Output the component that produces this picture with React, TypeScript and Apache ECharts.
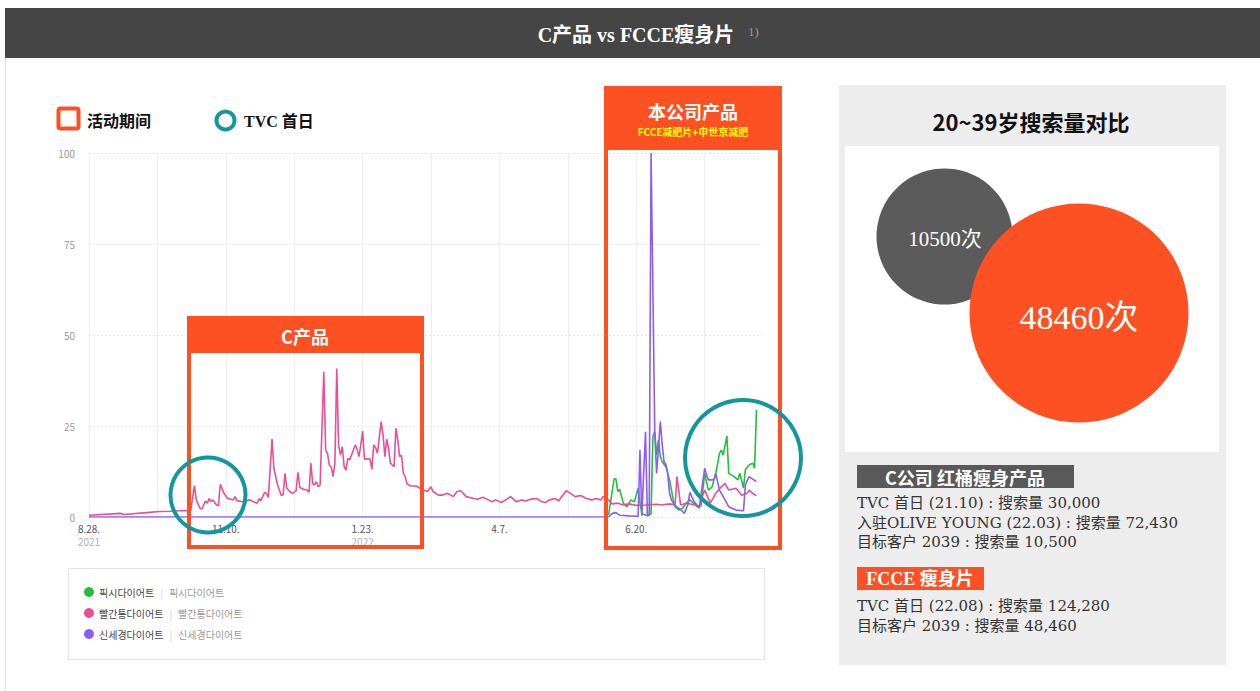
import React, { useEffect, useRef } from 'react';
import * as echarts from 'echarts';

// ---------- data ----------
const seriesNames = ['픽시다이어트', '빨간통다이어트', '신세경다이어트'];
const seriesColors = ['#22c03c', '#ea4f96', '#8c5cf5'];

// x = day index from 2021-08-28, y = relative search index
const pixieData: [number, number][] = [
  [281, 0.5], [284, 10.5], [285, 10.4], [286, 7.0], [287, 7.6], [289, 3.8], [291, 2.8], [293, 4.7],
  [295, 4.2], [297, 7.9], [298, 4.0], [299, 1.0], [301, 0.5], [303, 0.5], [304, 1.0], [305, 22.1],
  [306, 23.5], [307, 17], [308, 21.2], [309, 16.6], [310, 15.2], [312, 13.8], [314, 10.2], [316, 4.7],
  [317, 2.8], [319, 1.9], [321, 2.4], [323, 3.8], [325, 4.7], [327, 3.8], [329, 2.8], [331, 3.0],
  [333, 12.0], [335, 7.4], [337, 8.3], [339, 12.0], [341, 17.5], [342, 18.4], [343, 17], [345, 22.3],
  [346, 12.0], [349, 11.1], [351, 10.2], [352, 12.0], [354, 7.9], [355, 13], [357, 14.3], [359, 14.8],
  [360, 13.4], [361, 29.4],
];

const redBarrelData: [number, number][] = [
  [0, 0.5], [17, 1.0], [19, 0.7], [31, 1.2], [38, 1.5], [44, 1.6], [49, 1.7], [55, 1.7], [57, 8.6],
  [58, 4.7], [60, 2.4], [61, 2.2], [63, 4.4], [64, 3.8], [65, 5.1], [66, 4.2], [67, 4.7], [69, 3.3],
  [70, 3.1], [71, 9.0], [73, 6.5], [75, 5.1], [78, 4.7], [79, 5.6], [80, 4.5], [83, 4.2], [87, 4.7],
  [89, 4.2], [91, 3.8], [92, 5.1], [93, 4.5], [95, 6.8], [96, 6.5], [97, 5.4], [99, 21.4], [100, 13.4],
  [102, 8.8], [104, 5.9], [105, 6.1], [106, 12.0], [107, 7.9], [109, 6.8], [110, 6.5], [112, 7.2],
  [113, 12.3], [114, 8.1], [116, 7.6], [118, 7.4], [119, 6.8], [120, 14.8], [121, 9.1], [122, 8.8],
  [123, 9.7], [124, 8.3], [125, 8.8], [127, 39.9], [128, 18.4], [129, 17.5], [130, 14.3], [131, 13.8],
  [132, 11.1], [133, 14.8], [134, 40.8], [135, 19.8], [136, 17.0], [137, 19.3], [138, 13.8], [139, 12.9],
  [140, 16.1], [141, 15.7], [143, 18.4], [144, 19.8], [145, 18.6], [146, 16.6], [147, 19.8], [148, 23.6],
  [149, 15.9], [150, 16.0], [152, 15.9], [153, 13.1], [154, 19.8], [155, 19.1], [156, 17.5], [158, 26.2],
  [159, 22.8], [160, 16.6], [161, 21.4], [162, 18.9], [163, 14.8], [165, 13.8], [166, 24.4], [167, 21.2],
  [168, 16.6], [169, 17.0], [170, 12.0], [171, 11.1], [172, 9.1], [174, 8.5], [177, 8.5], [179, 7.9],
  [181, 7.4], [183, 7.0], [185, 8.3], [186, 7.0], [189, 6.0], [191, 6.0], [194, 6.5], [197, 5.6],
  [199, 7.0], [201, 7.2], [204, 5.6], [208, 5.1], [210, 4.9], [213, 5.4], [216, 4.7], [218, 4.2],
  [220, 4.7], [223, 4.0], [226, 4.9], [228, 5.6], [231, 4.2], [234, 4.7], [236, 4.4], [239, 4.9],
  [242, 5.1], [245, 4.2], [247, 4.0], [249, 4.7], [252, 5.1], [254, 4.4], [258, 7.2], [261, 6.3],
  [263, 5.6], [266, 5.9], [269, 5.1], [272, 4.7], [274, 5.1], [277, 4.7], [278, 5.6], [281, 4.7],
  [283, 3.6], [286, 3.8], [289, 3.3], [292, 3.6], [296, 3.2], [301, 3.3], [307, 3.5], [310, 3.3],
  [314, 3.6], [317, 3.3], [318, 11.1], [320, 3.3], [323, 3.8], [326, 3.5], [330, 3.0], [333, 7.4],
  [336, 3.8], [339, 6.5], [342, 8.3], [344, 9.2], [346, 7.4], [350, 7.9], [353, 6.0], [356, 6.5],
  [357, 7.4], [359, 6.5], [361, 5.8],
];

const shinData: [number, number][] = [
  [0, 0], [281, 0], [283, 1.0], [285, 1.2], [287, 0.5], [292, 0.3], [297, 0.2], [298, 18.4], [299, 0.3],
  [301, 23.4], [302, 0.3], [303, 0.5], [304, 100], [305, 62], [306, 23], [307, 12.0], [308, 19],
  [309, 26.2], [310, 20], [311, 15.2], [312, 14.5], [313, 12], [314, 6.5], [315, 4.7], [316, 3.8],
  [317, 3.2], [318, 2.8], [320, 2.0], [321, 1.5], [322, 1.0], [324, 3.5], [325, 6.8], [326, 5.6],
  [327, 4.5], [328, 3.8], [330, 2.4], [333, 13.4], [334, 11.5], [335, 10.2], [338, 10.2], [339, 12],
  [341, 7.4], [344, 4.7], [346, 2.8], [350, 1.9], [354, 1.7], [355, 8.8], [357, 11.1], [359, 10.4],
  [361, 9.7],
];

const xTickDays = [0, 74, 148, 222, 296];
const xTickLabels = ['8.28.', '11.10.', '1.23.', '4.7.', '6.20.'];
const xTickYears = ['2021', '', '2022', '', ''];

const bubbleNames = ['C公司 红桶瘦身产品', 'FCCE 瘦身片'];
const bubbleValues = [10500, 48460];
const cCompanyLines = [
  'TVC 首日 (21.10) : 搜索量 30,000',
  '入驻OLIVE YOUNG (22.03) : 搜索量 72,430',
  '目标客户 2039 : 搜索量 10,500',
];
const fcceLines = [
  'TVC 首日 (22.08) : 搜索量 124,280',
  '目标客户 2039 : 搜索量 48,460',
];

// ---------- styles ----------
const ORANGE = '#fe5123';
const TEAL = '#13979f';
const SERIF = '"Liberation Serif", "Noto Sans CJK SC", serif';
const BODY = '"DejaVu Serif", "Noto Sans CJK SC", serif';
const SANS = '"Noto Sans CJK SC", "Noto Sans", sans-serif';
const KR = '"Noto Sans CJK KR", "Noto Sans", sans-serif';

function txt(text: string, x: number, y: number, opts: any = {}) {
  const align = opts.align || 'center';
  return {
    type: 'text',
    x,
    y,
    z: opts.z ?? 100,
    style: {
      text,
      fill: opts.fill || '#222',
      fontSize: opts.fontSize || 14,
      fontWeight: opts.fontWeight || 'normal',
      fontFamily: opts.fontFamily || SANS,
      align,
      verticalAlign: 'middle',
      textAlign: align,
      textVerticalAlign: 'middle',
    },
  };
}

export default function App() {
  const ref = useRef<HTMLDivElement>(null);

  useEffect(() => {
    if (!ref.current) return;
    const chart = echarts.init(ref.current, undefined, { renderer: 'svg' });

    const graphic: any[] = [
      // header
      { type: 'rect', z: 100, shape: { x: 5, y: 8, width: 1255, height: 50 }, style: { fill: '#454545' } },
      { type: 'line', z: 100, shape: { x1: 5.5, y1: 58, x2: 5.5, y2: 691 }, style: { stroke: '#dddddd', lineWidth: 1 } },
      txt('C产品 vs FCCE瘦身片', 636, 35, { fill: '#ffffff', fontSize: 20, fontWeight: 'bold', fontFamily: SERIF }),
      txt('1)', 748, 31, { fill: '#9a9a9a', fontSize: 13, align: 'left', fontFamily: SERIF }),

      // top-left legend
      { type: 'rect', z: 100, shape: { x: 58.5, y: 108.5, width: 20, height: 20, r: 2 }, style: { fill: '#ffffff', stroke: ORANGE, lineWidth: 4 } },
      txt('活动期间', 87, 120, { fontSize: 16, fontWeight: 'bold', align: 'left', fill: '#111' }),
      { type: 'circle', z: 100, shape: { cx: 225.5, cy: 120.5, r: 9 }, style: { fill: 'none', stroke: TEAL, lineWidth: 4 } },
      txt('TVC 首日', 244, 121, { fontSize: 16, fontWeight: 'bold', align: 'left', fill: '#111', fontFamily: SERIF }),

      // C产品 box
      { type: 'rect', z: 100, shape: { x: 189, y: 318, width: 233, height: 229 }, style: { fill: 'none', stroke: ORANGE, lineWidth: 4 } },
      { type: 'rect', z: 100, shape: { x: 187, y: 316, width: 237, height: 37 }, style: { fill: ORANGE } },
      txt('C产品', 305, 336, { fill: '#ffffff', fontSize: 18, fontWeight: 'bold' }),

      // 本公司产品 box
      { type: 'rect', z: 100, shape: { x: 606, y: 88, width: 174, height: 460 }, style: { fill: 'none', stroke: ORANGE, lineWidth: 4 } },
      { type: 'rect', z: 100, shape: { x: 604, y: 86, width: 178, height: 64, r: 2 }, style: { fill: ORANGE } },
      txt('本公司产品', 693, 111, { fill: '#ffffff', fontSize: 18, fontWeight: 'bold' }),
      txt('FCCE减肥片+申世京减肥', 693, 131, { fill: '#ffff00', fontSize: 10, fontWeight: 'bold' }),

      // TVC circles
      { type: 'circle', z: 101, shape: { cx: 208, cy: 495, r: 37.5 }, style: { fill: 'none', stroke: TEAL, lineWidth: 4 } },
      { type: 'circle', z: 101, shape: { cx: 743, cy: 458, r: 58 }, style: { fill: 'none', stroke: TEAL, lineWidth: 4 } },

      // bottom legend frame
      { type: 'rect', z: 0, shape: { x: 68.5, y: 568.5, width: 696, height: 91 }, style: { fill: '#ffffff', stroke: '#e2e2e2', lineWidth: 1 } },

      // right panel
      { type: 'rect', z: 100, shape: { x: 839, y: 85, width: 387, height: 580 }, style: { fill: '#ededed' } },
      txt('20~39岁搜索量对比', 1031, 121, { fontSize: 22, fontWeight: 'bold', fill: '#111' }),
      { type: 'rect', z: 100, shape: { x: 845, y: 146, width: 374, height: 306 }, style: { fill: '#ffffff' } },
      { type: 'circle', z: 101, shape: { cx: 944.5, cy: 236.5, r: 68 }, style: { fill: '#5b5b5b' } },
      { type: 'circle', z: 102, shape: { cx: 1079, cy: 313, r: 109.5 }, style: { fill: ORANGE } },
      txt(`${bubbleValues[0]}次`, 945, 239, { fill: '#ffffff', fontSize: 21, fontFamily: SERIF, z: 103 }),
      txt(`${bubbleValues[1]}次`, 1079, 317, { fill: '#ffffff', fontSize: 34, fontFamily: SERIF, z: 103 }),

      { type: 'rect', z: 101, shape: { x: 857, y: 465, width: 217, height: 23 }, style: { fill: '#595959' } },
      txt(bubbleNames[0], 965, 477, { fill: '#ffffff', fontSize: 18, fontWeight: 'bold', z: 102 }),
      ...cCompanyLines.map((l, i) => txt(l, 857, 503 + i * 19.5, { fill: '#333', fontSize: 15, align: 'left', fontFamily: BODY, z: 102 })),
      { type: 'rect', z: 101, shape: { x: 857, y: 567, width: 127, height: 23 }, style: { fill: ORANGE } },
      txt(bubbleNames[1], 920, 579, { fill: '#ffffff', fontSize: 18, fontWeight: 'bold', fontFamily: SERIF, z: 102 }),
      ...fcceLines.map((l, i) => txt(l, 857, 606 + i * 19.5, { fill: '#333', fontSize: 15, align: 'left', fontFamily: BODY, z: 102 })),
    ];

    const datasets = [pixieData, redBarrelData, shinData];

    chart.setOption({
      animation: false,
      backgroundColor: '#ffffff',
      grid: { left: 89, right: 498, top: 153, bottom: 174, containLabel: false },
      xAxis: {
        type: 'value',
        min: 0,
        max: 364,
        interval: 37,
        axisLine: { show: false },
        axisTick: { show: false },
        splitLine: { show: true, showMaxLine: false, lineStyle: { color: '#eeeeee', width: 1 } },
        axisLabel: {
          margin: 5,
          showMaxLabel: false,
          formatter: (v: number) => {
            const i = xTickDays.indexOf(Math.round(v));
            if (i < 0) return '';
            return xTickYears[i] ? `{a|${xTickLabels[i]}}\n{b|${xTickYears[i]}}` : `{a|${xTickLabels[i]}}`;
          },
          rich: {
            a: { fontSize: 10, color: '#555', fontFamily: SANS, lineHeight: 13 },
            b: { fontSize: 10, color: '#b0b0b0', fontFamily: SANS, lineHeight: 13 },
          },
        },
      },
      yAxis: {
        type: 'value',
        min: 0,
        max: 100,
        interval: 25,
        axisLine: { show: false },
        axisTick: { show: false },
        axisLabel: { margin: 14, color: '#999', fontSize: 10, fontFamily: SANS },
        splitLine: { show: true, lineStyle: { color: '#e4e4e4', type: [2, 2], width: 1 } },
      },
      legend: {
        orient: 'vertical',
        left: 84,
        top: 587,
        padding: 0,
        itemWidth: 10,
        itemHeight: 10,
        itemGap: 11,
        icon: 'circle',
        selectedMode: false,
        data: seriesNames,
        formatter: (name: string) => `{a|${name}}{s||}{b|${name}}`,
        textStyle: {
          fontFamily: KR,
          fontSize: 10,
          rich: {
            a: { color: '#444', fontSize: 10, fontFamily: KR },
            s: { color: '#cccccc', fontSize: 10, padding: [0, 6] },
            b: { color: '#999', fontSize: 10, fontFamily: KR },
          },
        },
      },
      series: seriesNames.map((name, i) => ({
        name,
        type: 'line',
        data: datasets[i],
        showSymbol: false,
        symbol: 'none',
        color: seriesColors[i],
        lineStyle: { width: 1.6, color: seriesColors[i] },
        z: 2 + i,
      })),
      graphic,
    });

    return () => chart.dispose();
  }, []);

  return <div ref={ref} style={{ position: 'absolute', left: 0, top: 0, width: 1260, height: 691 }} />;
}
